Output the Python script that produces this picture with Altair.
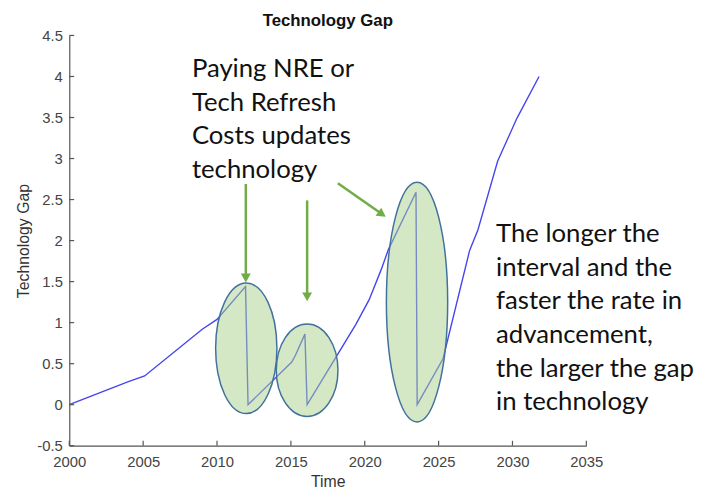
import altair as alt
import pandas as pd

# ---- data ----
time = [2000.0, 2004.0, 2005.1, 2009.0, 2010.0, 2011.93, 2012.1, 2015.06, 2015.3, 2015.95, 2016.1,
        2019.4, 2020.3, 2021.1, 2021.6, 2023.47, 2023.55, 2025.3, 2027.1, 2027.66, 2029.0, 2030.3, 2031.8]
gap = [0.0, 0.28, 0.35, 0.92, 1.04, 1.44, 0.0, 0.52, 0.60, 0.86, 0.0,
       0.98, 1.28, 1.64, 1.89, 2.59, 0.0, 0.56, 1.88, 2.13, 2.97, 3.49, 4.0]

x_ticks = [2000, 2005, 2010, 2015, 2020, 2025, 2030, 2035]
y_ticks = [-0.5, 0, 0.5, 1, 1.5, 2, 2.5, 3, 3.5, 4, 4.5]

# highlighted refresh events (ellipse centres, data units)
ell_time = [2011.98, 2016.10, 2023.54]
ell_gap = [0.687, 0.42, 1.25]

# arrows (start -> tip, data units)
arr_x0 = [2011.95, 2016.10, 2018.18]
arr_y0 = [2.69, 2.49, 2.70]
arr_x1 = [2011.95, 2016.10, 2021.04]
arr_y1 = [1.57, 1.34, 2.34]
tip_x = [2011.95, 2016.10, 2021.42]
tip_y = [1.49, 1.26, 2.29]

notes = ["Paying NRE or\nTech Refresh\nCosts updates\ntechnology",
         "The longer the\ninterval and the\nfaster the rate in\nadvancement,\nthe larger the gap\nin technology"]
note_x = [2008.30, 2028.89]
note_y = [3.994, 1.982]

# ---- styles ----
def ellipse_path(ry):
    return f"M0,{-ry} A1,{ry} 0 1,1 0,{ry} A1,{ry} 0 1,1 0,{-ry} Z"

ell_shape = [ellipse_path(2.13), ellipse_path(1.497), ellipse_path(3.91)]
ell_size = [3844, 3894, 3844]
head_path = "M0,0 L-1,-1.8 L1,-1.8 Z"
head_angle = [0, 0, 305]

X = alt.Scale(domain=[2000, 2035], nice=False, zero=False)
Y = alt.Scale(domain=[-0.5, 4.5], nice=False, zero=False)

line_df = pd.DataFrame({"t": time, "g": gap, "i": list(range(len(time)))})
ell_df = pd.DataFrame({"t": ell_time, "g": ell_gap, "shape": ell_shape, "size": ell_size})
arr_df = pd.DataFrame({"x0": arr_x0, "y0": arr_y0, "x1": arr_x1, "y1": arr_y1})
head_df = pd.DataFrame({"x": tip_x, "y": tip_y, "a": head_angle, "shape": [head_path] * 3})
note_df = pd.DataFrame({"x": note_x, "y": note_y, "txt": notes})
xt_df = pd.DataFrame({"x": x_ticks, "y": [-0.5] * len(x_ticks), "y2": [-0.44] * len(x_ticks)})
yt_df = pd.DataFrame({"y": y_ticks, "x": [2000] * len(y_ticks), "x2": [2000.33] * len(y_ticks)})

line = alt.Chart(line_df).mark_line(color="#4545f0", strokeWidth=1.4).encode(
    x=alt.X("t:Q", scale=X, title="Time",
            axis=alt.Axis(values=x_ticks, format="d", labelPadding=9, titlePadding=4,
                          labelFlush=False)),
    y=alt.Y("g:Q", scale=Y, title="Technology Gap",
            axis=alt.Axis(values=y_ticks, labelPadding=7, titlePadding=5,
                          labelExpr="'' + datum.value")),
    order="i:Q",
)

ells = alt.Chart(ell_df).mark_point(
    filled=True, fill="#a9d18e", fillOpacity=0.5, stroke="#41719c",
    strokeWidth=1.5, strokeOpacity=1, opacity=1
).encode(
    x=alt.X("t:Q", scale=X), y=alt.Y("g:Q", scale=Y),
    shape=alt.Shape("shape:N", scale=None),
    size=alt.Size("size:Q", scale=None),
)

arrows = alt.Chart(arr_df).mark_rule(color="#70ad47", strokeWidth=2.5).encode(
    x=alt.X("x0:Q", scale=X), y=alt.Y("y0:Q", scale=Y), x2="x1:Q", y2="y1:Q"
)

heads = alt.Chart(head_df).mark_point(filled=True, color="#70ad47", opacity=1, size=100).encode(
    x=alt.X("x:Q", scale=X), y=alt.Y("y:Q", scale=Y),
    shape=alt.Shape("shape:N", scale=None),
    angle=alt.Angle("a:Q", scale=None),
)

texts = alt.Chart(note_df).mark_text(
    align="left", baseline="alphabetic", font="Lato", fontSize=26,
    lineHeight=34, lineBreak="\n", color="#111111"
).encode(x=alt.X("x:Q", scale=X), y=alt.Y("y:Q", scale=Y), text="txt:N")

xt = alt.Chart(xt_df).mark_rule(color="#555555", strokeWidth=1.2).encode(
    x=alt.X("x:Q", scale=X), y=alt.Y("y:Q", scale=Y), y2="y2:Q")
yt = alt.Chart(yt_df).mark_rule(color="#555555", strokeWidth=1.2).encode(
    y=alt.Y("y:Q", scale=Y), x=alt.X("x:Q", scale=X), x2="x2:Q")

chart = alt.layer(line, ells, arrows, heads, texts, xt, yt).properties(
    width=523, height=415,
    autosize=alt.AutoSizeParams(type="none"),
    padding={"left": 62, "top": 25, "right": 116, "bottom": 41},
    title=alt.Title("Technology Gap", font="Liberation Sans", fontSize=17,
                    fontWeight="bold", color="#111111", offset=3, dy=4),
).configure_view(stroke=None).configure_axis(
    grid=False, ticks=False, tickSize=0,
    domainColor="#555555", domainWidth=1.2,
    labelFont="Liberation Sans", labelFontSize=15, labelColor="#444444",
    titleFont="Liberation Sans", titleFontSize=16, titleFontWeight="normal", titleColor="#333333",
)

chart.save("out.html", embed_options={"renderer": "svg", "actions": False})
